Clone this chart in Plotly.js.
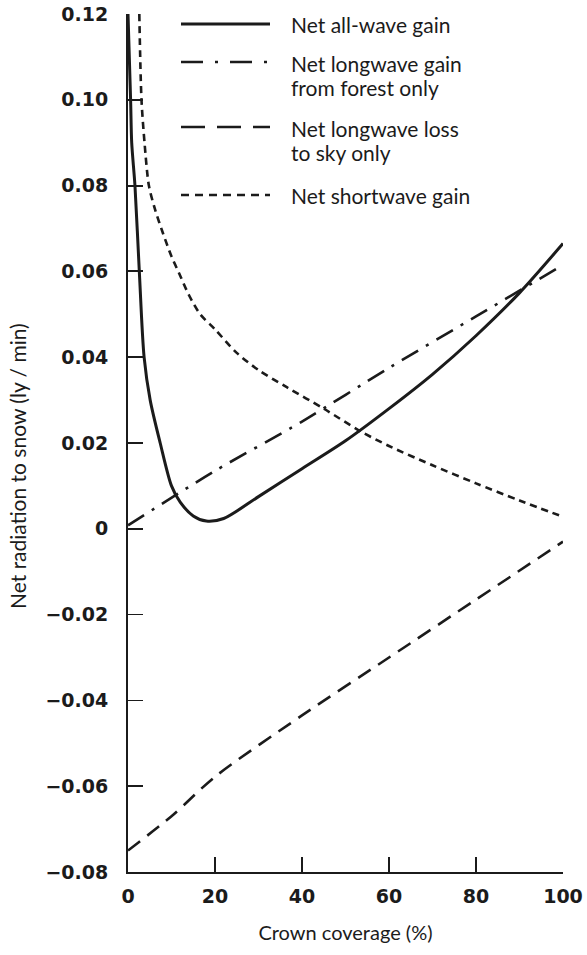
<!DOCTYPE html>
<html>
<head>
<meta charset="utf-8">
<script src="https://cdn.plot.ly/plotly-3.0.1.min.js"></script>
<style>html,body{margin:0;padding:0;background:#fff;}#chart{width:587px;height:955px;}</style>
</head>
<body>
<div id="chart"></div>
<script>
// Net all-wave gain
const allWaveX = [0, 0.6, 0.85, 1.6, 2.6, 3.7, 5.1, 7.4, 10, 12, 15, 18, 22, 30, 40, 50, 60, 70, 80, 90, 100];
const allWaveY = [0.12, 0.10, 0.09, 0.08, 0.06, 0.04, 0.03, 0.02, 0.01, 0.0062, 0.003, 0.0018, 0.0024, 0.0075, 0.014, 0.0205, 0.028, 0.036, 0.045, 0.055, 0.0665];
// Net longwave gain from forest only
const forestX = [0, 20, 40, 60, 80, 100];
const forestY = [0.0008, 0.0135, 0.025, 0.0375, 0.0495, 0.0615];
// Net longwave loss to sky only
const skyX = [0, 10, 20, 40, 60, 80, 100];
const skyY = [-0.075, -0.067, -0.0578, -0.0435, -0.0300, -0.0165, -0.0030];
// Net shortwave gain
const shortX = [2.6, 3.1, 3.8, 4.8, 6.2, 8, 10, 12, 14, 16.6, 20, 25, 30, 36.5, 45, 53.5, 60, 70, 80, 90, 100];
const shortY = [0.12, 0.10, 0.09, 0.08, 0.0745, 0.069, 0.0635, 0.059, 0.0545, 0.05, 0.0465, 0.041, 0.037, 0.033, 0.028, 0.0227, 0.0193, 0.0148, 0.0106, 0.0066, 0.0028];

const seriesNames = ["Net all-wave gain", "Net longwave gain<br>from forest only", "Net longwave loss<br>to sky only", "Net shortwave gain"];
const xTickVals = [0, 20, 40, 60, 80, 100];
const xTickText = ["0", "20", "40", "60", "80", "100"];
const yTickVals = [-0.08, -0.06, -0.04, -0.02, 0, 0.02, 0.04, 0.06, 0.08, 0.10, 0.12];
const yTickText = ["\u22120.08", "\u22120.06", "\u22120.04", "\u22120.02", "0", "0.02", "0.04", "0.06", "0.08", "0.10", "0.12"];

const INK = "#1b1b1b";
const dashes = ["solid", "19px,9px,3px,9px", "15px,9px", "7px,5px"];
const legDashes = ["solid", "22px,12px,3px,12px", "24px,12px", "8px,6px"];
const widths = [3, 2.6, 2.6, 2.6];
const TXT = "Lato, 'Noto Sans', sans-serif";

const data = [
  {x: allWaveX, y: allWaveY, name: seriesNames[0], mode: "lines", line: {color: INK, width: widths[0], dash: dashes[0], shape: "spline", smoothing: 0.8}},
  {x: forestX, y: forestY, name: seriesNames[1], mode: "lines", line: {color: INK, width: widths[1], dash: dashes[1], shape: "spline", smoothing: 0.8}},
  {x: skyX, y: skyY, name: seriesNames[2], mode: "lines", line: {color: INK, width: widths[2], dash: dashes[2], shape: "spline", smoothing: 0.8}},
  {x: shortX, y: shortY, name: seriesNames[3], mode: "lines", line: {color: INK, width: widths[3], dash: dashes[3], shape: "spline", smoothing: 0.8}}
];

// legend placement (paper coords)
const L = 128, R = 563, T = 14, B = 872;
const px = v => (v - L) / (R - L);
const py = v => (B - v) / (B - T);
const legRows = [24, 62, 127, 195];
const legTexts = [["Net all-wave gain"], ["Net longwave gain", "from forest only"], ["Net longwave loss", "to sky only"], ["Net shortwave gain"]];
const legTextY = [[24], [63, 88], [128, 152], [195]];

const shapes = [];
const annotations = [];
legRows.forEach((ry, i) => {
  shapes.push({type: "line", xref: "paper", yref: "paper", x0: px(181), x1: px(270), y0: py(ry), y1: py(ry),
    line: {color: INK, width: widths[i], dash: legDashes[i]}});
  legTexts[i].forEach((t, j) => {
    annotations.push({xref: "paper", yref: "paper", x: px(289), y: py(legTextY[i][j]), xanchor: "left", yanchor: "middle",
      text: t, showarrow: false, font: {family: TXT, size: 21, color: INK}});
  });
});
annotations.push({xref: "paper", yref: "paper", x: px(18), y: py(466), xanchor: "center", yanchor: "middle", textangle: -90,
  text: "Net radiation to snow (ly / min)", showarrow: false, font: {family: TXT, size: 21, color: INK}});

const layout = {
  width: 587, height: 955,
  margin: {l: L, r: 587 - R, t: T, b: 955 - B},
  paper_bgcolor: "#fff", plot_bgcolor: "#fff",
  showlegend: false,
  xaxis: {range: [0, 100], tickvals: xTickVals, ticktext: xTickText, ticks: "inside", ticklen: 15, tickwidth: 1.8, tickcolor: INK,
    showline: true, linecolor: INK, linewidth: 2, showgrid: false, zeroline: false, mirror: false,
    tickfont: {family: "'DejaVu Sans', sans-serif", size: 19, weight: 700, color: INK}, ticklabelstandoff: 6,
    title: {text: "Crown coverage (%)", standoff: 20, font: {family: TXT, size: 20, color: INK}}},
  yaxis: {range: [-0.08, 0.12], tickvals: yTickVals, ticktext: yTickText, ticks: "inside", ticklen: 15, tickwidth: 1.8, tickcolor: INK,
    showline: true, linecolor: INK, linewidth: 2, showgrid: false, zeroline: false, mirror: false,
    tickfont: {family: "'DejaVu Sans', sans-serif", size: 19, weight: 700, color: INK}, ticklabelstandoff: 14},
  shapes: shapes,
  annotations: annotations
};

Plotly.newPlot("chart", data, layout, {staticPlot: true, displayModeBar: false});
</script>
</body>
</html>
